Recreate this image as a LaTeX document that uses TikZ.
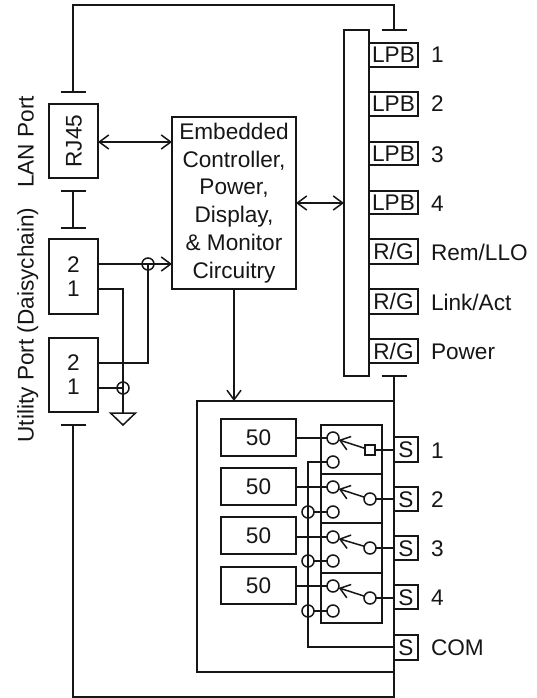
\documentclass[tikz,border=0pt]{standalone}
\usepackage{fontspec}
\setmainfont{Liberation Sans}
\usetikzlibrary{arrows.meta}
\definecolor{ink}{HTML}{161616}
\tikzset{
  x=1pt,y=-1pt,
  wire/.style={line width=1.5pt,draw=ink},
  barb/.style={>={Straight Barb[length=9.5pt,width=14pt]}},
  boxed/.style={draw=ink,line width=1.5pt,inner sep=0pt,outer sep=0pt,text=ink,
    font=\fontsize{22.6}{24}\selectfont,align=center},
  capline/.style={text height=16pt,text depth=0pt},
  lab/.style={inner sep=0pt,outer sep=0pt,text=ink,anchor=west,capline,
    font=\fontsize{22.6}{24}\selectfont},
  vlab/.style={inner sep=0pt,outer sep=0pt,text=ink,rotate=90,anchor=base,
    font=\fontsize{22.6}{24}\selectfont},
  pin/.style={draw=ink,line width=1.5pt,circle,minimum size=12pt,inner sep=0pt,outer sep=0pt},
  pinsq/.style={draw=ink,line width=1.5pt,rectangle,minimum size=10pt,inner sep=0pt,outer sep=0pt},
}
% name, x1, y1, x2, y2, text
\newcommand{\bx}[6]{\node[boxed,minimum width={#4-#2},minimum height={#5-#3}] (#1) at ({(#2+#4)/2},{(#3+#5)/2}) {#6};}
\newcommand{\capbx}[6]{\node[boxed,capline,minimum width={#4-#2},minimum height={#5-#3}] (#1) at ({(#2+#4)/2},{(#3+#5)/2}) {#6};}
\newcommand{\tbar}[1]{\draw[wire] ([xshift=-12.5pt]#1) -- ([xshift=12.5pt]#1);}
\begin{document}
\begin{tikzpicture}
\useasboundingbox[fill=white] (0,0) rectangle (537,698);

% left ports
\node[boxed,capline,minimum width=74,minimum height=49,rotate=90] (rj) at (73.5,141) {RJ45};
\bx{pa}{49}{239}{98}{314}{2\\1}
\bx{pb}{49}{338}{98}{412}{2\\1}
\node[vlab] (lanl) at (33.5,142) {LAN Port};
\node[vlab] (utl) at (33.5,325) {Utility Port (Daisychain)};

% controller
\node[boxed,minimum width=124,minimum height=172,
  font=\fontsize{22.6}{27.7}\selectfont] (ctl) at (234,203)
  {Embedded\\Controller,\\Power,\\Display,\\\& Monitor\\Circuitry};

% bus
\bx{bus}{344}{30}{369}{376}{}

% LEDs
\capbx{l1}{369}{43}{418}{67}{LPB}
\capbx{l2}{369}{92}{418}{116}{LPB}
\capbx{l3}{369}{142}{418}{165}{LPB}
\capbx{l4}{369}{191}{418}{214}{LPB}
\capbx{l5}{369}{239}{418}{264}{R/G}
\capbx{l6}{369}{289}{418}{314}{R/G}
\capbx{l7}{369}{339}{418}{363}{R/G}
\node[lab] (n1) at (431,55) {1};
\node[lab] (n2) at (431,104) {2};
\node[lab] (n3) at (431,154) {3};
\node[lab] (n4) at (431,203) {4};
\node[lab] (n5) at (431,252) {Rem/LLO};
\node[lab] (n6) at (431,302) {Link/Act};
\node[lab] (n7) at (431,351) {Power};

% large housing
\bx{big}{197}{401}{394}{672}{}

% terminations
\coordinate (ta) at (73,92);
\coordinate (tb) at (394,30);
\coordinate (tc) at (73,191);
\coordinate (td) at (73,228);
\coordinate (te) at (73,425);
\coordinate (tf) at (394,376);
\coordinate (tl) at (73,5);
\coordinate (tr) at (394,5);
\coordinate (bl) at (73,697);
\coordinate (br) at (394,697);
\tbar{ta}\tbar{tb}\tbar{tc}\tbar{td}\tbar{te}\tbar{tf}
\draw[wire] (ta) -- (tl) -- (tr) -- (tb);
\draw[wire] (tc) -- (td);
\draw[wire] (te) -- (bl) -- (br) -- (big.south east);
\draw[wire] (tf) -- (tf |- big.north);

% arrows
\draw[wire,barb,<->] (rj.south |- 0,142) -- (ctl.west |- 0,142);
\draw[wire,barb,<->] (ctl.east |- 0,203) -- (bus.west |- 0,203);
\draw[wire,barb,->] (ctl.south) -- (ctl.south |- big.north);

% utility wiring
\node[pin] (xa) at (148,264) {};
\node[pin] (xb) at (123,388) {};
\coordinate (gnd) at (123,413);
\draw[wire,barb,->] (pa.east |- 0,264) -- (ctl.west |- 0,264);
\draw[wire] (pa.east |- 0,289) -- (gnd |- 0,289) -- (gnd);
\draw[wire] (pb.east |- 0,363) -- (xa.center |- 0,363) -- (xa.center);
\draw[wire] (pb.east |- xb) -- (xb.center);
\draw[wire,line join=miter] ([xshift=-12.5pt]gnd) -- ([xshift=12.5pt]gnd) -- ([yshift=-12pt]gnd) -- cycle;

% terminators
\capbx{r1}{221}{419}{296}{456}{50}
\capbx{r2}{221}{468}{296}{505}{50}
\capbx{r3}{221}{517}{296}{554}{50}
\capbx{r4}{221}{567}{296}{604}{50}

% switch boxes
\bx{sw1}{321}{425}{382}{474}{}
\bx{sw2}{321}{474}{382}{523}{}
\bx{sw3}{321}{523}{382}{573}{}
\bx{sw4}{321}{573}{382}{623}{}

% contacts
\node[pin] (u1) at (333,438) {};
\node[pin] (u2) at (333,487) {};
\node[pin] (u3) at (333,537) {};
\node[pin] (u4) at (333,586) {};
\node[pin] (d1) at (333,462) {};
\node[pin] (d2) at (333,512) {};
\node[pin] (d3) at (333,561) {};
\node[pin] (d4) at (333,611) {};
\node[pinsq] (c1) at (370,450) {};
\node[pin] (c2) at (370,499) {};
\node[pin] (c3) at (370,548) {};
\node[pin] (c4) at (370,598) {};
\node[pin] (x2) at (308,512) {};
\node[pin] (x3) at (308,561) {};
\node[pin] (x4) at (308,611) {};

% S terminals
\capbx{s1}{394}{437}{418}{462}{S}
\capbx{s2}{394}{487}{418}{511}{S}
\capbx{s3}{394}{536}{418}{560}{S}
\capbx{s4}{394}{585}{418}{609}{S}
\capbx{s5}{394}{635}{418}{660}{S}
\node[lab] (m1) at (431,450) {1};
\node[lab] (m2) at (431,499) {2};
\node[lab] (m3) at (431,548) {3};
\node[lab] (m4) at (431,597) {4};
\node[lab] (m5) at (431,647) {COM};

% switch wiring
\draw[wire] (r1.east |- u1) -- (u1);
\draw[wire] (r2.east |- u2) -- (u2);
\draw[wire] (r3.east |- u3) -- (u3);
\draw[wire] (r4.east |- u4) -- (u4);
\draw[wire,barb,->] (c1) -- (u1);
\draw[wire,barb,->] (c2) -- (u2);
\draw[wire,barb,->] (c3) -- (u3);
\draw[wire,barb,->] (c4) -- (u4);
\draw[wire] (c1) -- (s1.west |- c1);
\draw[wire] (c2) -- (s2.west |- c2);
\draw[wire] (c3) -- (s3.west |- c3);
\draw[wire] (c4) -- (s4.west |- c4);
\draw[wire] (d2) -- (x2);
\draw[wire] (d3) -- (x3);
\draw[wire] (d4) -- (x4);
\draw[wire] (d1) -- (d1 -| x2.center) -- (x2.center |- 0,647) -- (s5.west |- 0,647);
\end{tikzpicture}
\end{document}
